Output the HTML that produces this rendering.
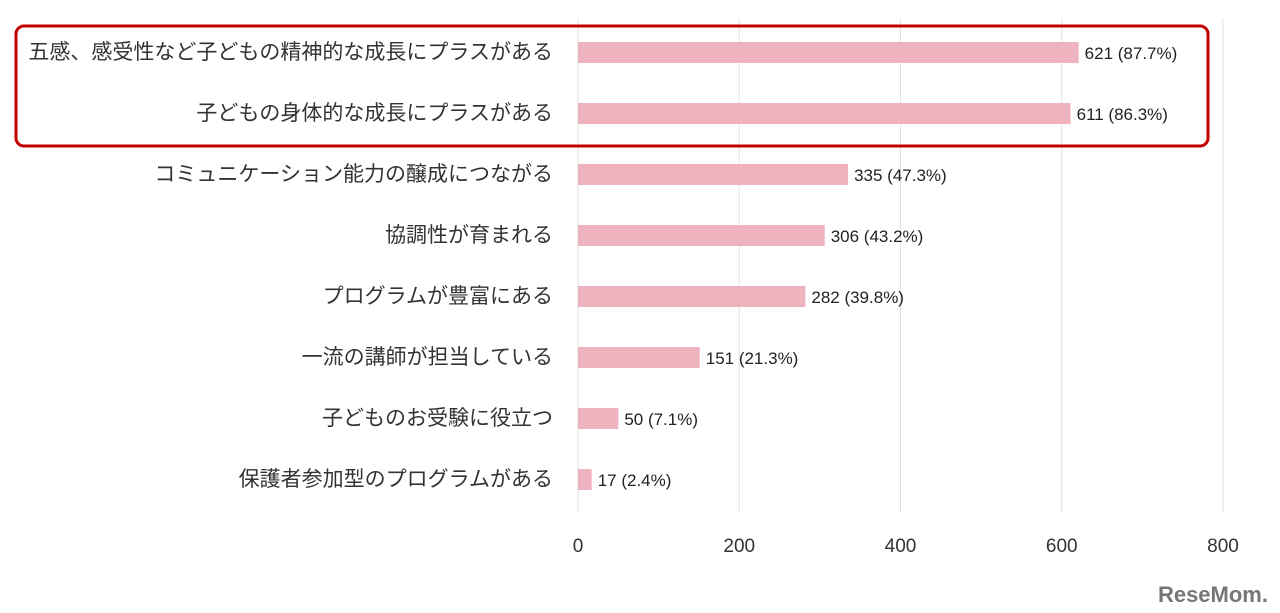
<!DOCTYPE html>
<html><head><meta charset="utf-8">
<style>
body{margin:0;background:#fff;}
svg{display:block;}
.lbl{font-family:"Liberation Sans","Noto Sans CJK JP",sans-serif;font-size:21px;fill:#333;}
.val{font-family:"Liberation Sans Narrow","Liberation Sans",sans-serif;font-size:17px;fill:#222;}
.tick{font-family:"Liberation Sans Narrow","Liberation Sans",sans-serif;font-size:19px;fill:#333;}
</style></head>
<body>
<svg id="chart" width="1280" height="613" viewBox="0 0 1280 613" xmlns="http://www.w3.org/2000/svg">
<g id="grid"></g>
<g id="bars"></g>
<g id="ticks"></g>
<rect x="16" y="26" width="1192" height="120" rx="8" fill="none" stroke="#c00000" stroke-width="3"/>
<text x="1268" y="602" text-anchor="end" font-family="Liberation Sans Narrow,Liberation Sans,sans-serif" font-weight="bold" font-size="22" fill="#777">ReseMom.</text>
</svg>
<script>
const categories=["五感、感受性など子どもの精神的な成長にプラスがある","子どもの身体的な成長にプラスがある","コミュニケーション能力の醸成につながる","協調性が育まれる","プログラムが豊富にある","一流の講師が担当している","子どものお受験に役立つ","保護者参加型のプログラムがある"];
const values=[621,611,335,306,282,151,50,17];
const percents=["87.7%","86.3%","47.3%","43.2%","39.8%","21.3%","7.1%","2.4%"];
const ticks=[0,200,400,600,800];
const NS="http://www.w3.org/2000/svg";
const x0=578,x1=1223,maxV=800;
const xs=v=>x0+(x1-x0)*v/maxV;
const rowY=i=>52+i*61;
function mk(tag,attrs,parent){const e=document.createElementNS(NS,tag);for(const k in attrs)e.setAttribute(k,attrs[k]);parent.appendChild(e);return e;}
const grid=document.getElementById('grid'),bars=document.getElementById('bars'),tk=document.getElementById('ticks');
ticks.forEach(t=>{
  const l=mk('line',{x1:xs(t),x2:xs(t),y1:18,y2:512,stroke:'#e3e3e3','stroke-width':1},grid);
  
  
  const tx=mk('text',{x:xs(t),y:552,'text-anchor':'middle',class:'tick'},tk);
  tx.textContent=t;
  
  
});
categories.forEach((c,i)=>{
  const y=rowY(i);
  const lb=mk('text',{x:553,y:y+7,'text-anchor':'end',class:'lbl'},bars);
  lb.textContent=c;
  
  
  const r=mk('rect',{x:x0,y:y-10,width:xs(values[i])-x0,height:21,fill:'#efb3bf'},bars);
  
  
  const v=mk('text',{x:xs(values[i])+6,y:y+7,class:'val'},bars);
  v.textContent=values[i]+" ("+percents[i]+")";
  
  
});
</script>
</body></html>
